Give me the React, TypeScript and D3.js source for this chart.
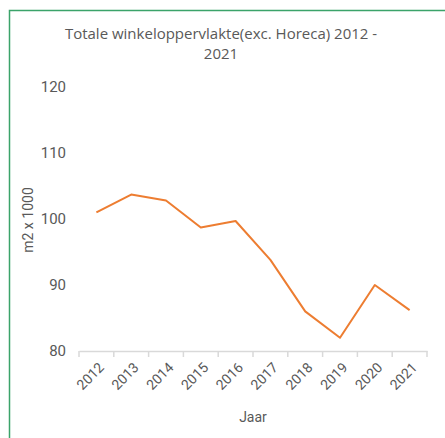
import React, { useEffect, useRef } from 'react';
import * as d3 from 'd3';

const years = ['2012', '2013', '2014', '2015', '2016', '2017', '2018', '2019', '2020', '2021'];
const values = [101, 103.7, 102.8, 98.7, 99.7, 93.8, 86, 82, 90, 86.2];
const yTicks = [80, 90, 100, 110, 120];
const titleLines = ['Totale winkeloppervlakte(exc. Horeca) 2012 -', '2021'];
const xTitle = 'Jaar';
const yTitle = 'm2 x 1000';

export default function App() {
    const ref = useRef<SVGSVGElement>(null);

    useEffect(() => {
        const svg = d3.select(ref.current);
        svg.selectAll('*').remove();
        const font = 'Roboto, "Open Sans", sans-serif';
        const grey = '#595959';

        // frame
        svg.append('rect')
            .attr('x', 9.5).attr('y', 10.5)
            .attr('width', 460).attr('height', 460)
            .attr('fill', '#fff')
            .attr('stroke', '#3ba36a')
            .attr('stroke-width', 1.5);

        const x = d3.scaleBand<string>()
            .domain(years)
            .range([79, 427]);

        const y = d3.scaleLinear()
            .domain([80, 120])
            .range([351, 87]);

        // title
        svg.append('text')
            .attr('x', 221)
            .attr('y', 39)
            .attr('text-anchor', 'middle')
            .attr('font-family', '"Open Sans", sans-serif')
            .attr('font-size', 15)
            .attr('fill', grey)
            .selectAll('tspan')
            .data(titleLines)
            .enter()
            .append('tspan')
            .attr('x', 221)
            .attr('dy', (d, i) => (i === 0 ? 0 : 20))
            .text(d => d);

        // y labels
        svg.append('g')
            .selectAll('text')
            .data(yTicks)
            .enter()
            .append('text')
            .attr('x', 66)
            .attr('y', d => y(d))
            .attr('dy', '0.35em')
            .attr('text-anchor', 'end')
            .attr('font-family', font)
            .attr('font-size', 15)
            .attr('fill', grey)
            .text(d => d);

        // x axis
        const xAxis = d3.axisBottom(x).tickSize(0).tickFormat(() => '');
        const gx = svg.append('g')
            .attr('transform', `translate(0, ${y(80)})`)
            .call(xAxis);
        gx.select('.domain').attr('stroke', '#d9d9d9').attr('stroke-width', 1.5);

        const edges = years.map(d => x(d) as number).concat([427]);
        gx.selectAll('line.edge')
            .data(edges)
            .enter()
            .append('line')
            .attr('class', 'edge')
            .attr('x1', d => d).attr('x2', d => d)
            .attr('y1', 0).attr('y2', 6)
            .attr('stroke', '#d9d9d9')
            .attr('stroke-width', 1.5);

        svg.append('g')
            .selectAll('text')
            .data(years)
            .enter()
            .append('text')
            .attr('transform', d => `translate(${(x(d) as number) + x.bandwidth() / 2 + 5}, ${y(80) + 14}) rotate(-45)`)
            .attr('text-anchor', 'end')
            .attr('dy', '0.35em')
            .attr('font-family', font)
            .attr('font-size', 14)
            .attr('fill', grey)
            .text(d => d);

        // axis titles
        svg.append('text')
            .attr('x', 253)
            .attr('y', 422)
            .attr('text-anchor', 'middle')
            .attr('font-family', font)
            .attr('font-size', 14)
            .attr('fill', grey)
            .text(xTitle);

        svg.append('text')
            .attr('transform', 'translate(33, 220) rotate(-90)')
            .attr('text-anchor', 'middle')
            .attr('font-family', font)
            .attr('font-size', 14)
            .attr('fill', grey)
            .text(yTitle);

        // line
        const line = d3.line<number>()
            .x((d, i) => (x(years[i]) as number) + x.bandwidth() / 2)
            .y(d => y(d));

        svg.append('path')
            .datum(values)
            .attr('d', line)
            .attr('fill', 'none')
            .attr('stroke', '#ed7d31')
            .attr('stroke-width', 2)
            .attr('stroke-linejoin', 'round');
    }, []);

    return (
        <svg ref={ref} width={445} height={438}
            style={{ position: 'absolute', left: 0, top: 0, background: '#fff' }} />
    );
}
